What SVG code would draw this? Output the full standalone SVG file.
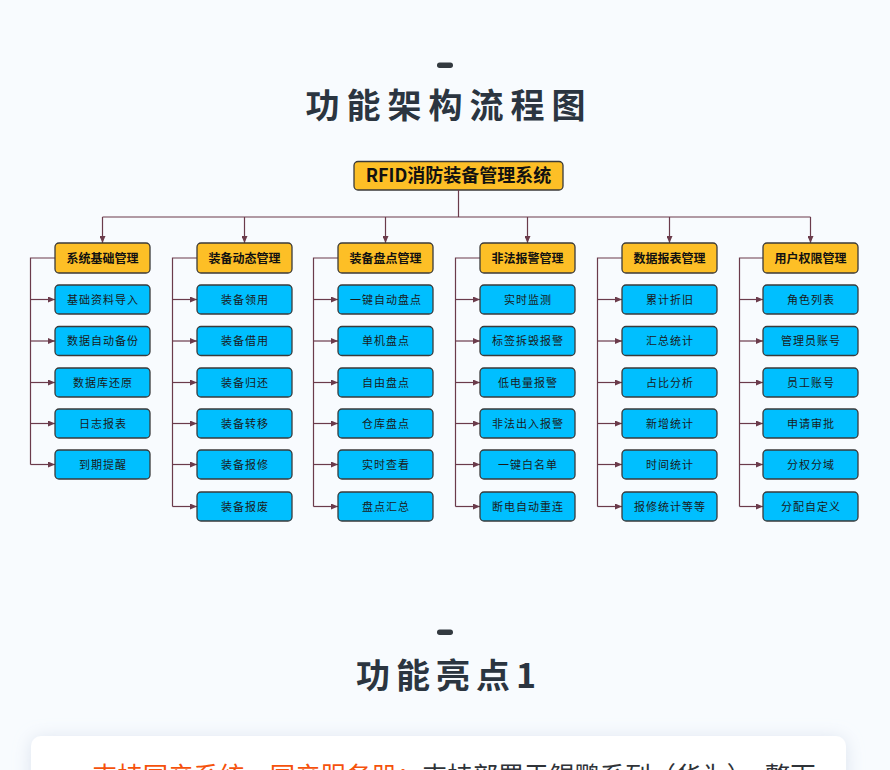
<svg xmlns="http://www.w3.org/2000/svg" width="890" height="770" viewBox="0 0 890 770">
<defs>
<style>
.bg{fill:#f8fbfe}
.dash{fill:#333a40}
.title{font-family:"Noto Sans CJK SC","Noto Sans",sans-serif;font-weight:700;font-size:34px;fill:#2b3540;text-anchor:middle}
.root rect,.hdr rect{fill:#fdbf26;stroke:#3a3a3a;stroke-width:1.3}
.leaf rect{fill:#00bfff;stroke:#3a3a3a;stroke-width:1.3}
.root text{font-family:"Noto Sans CJK SC",sans-serif;font-weight:700;font-size:18px;fill:#111;text-anchor:middle}
.hdr text{font-family:"Noto Sans CJK SC",sans-serif;font-weight:700;font-size:12px;fill:#111;text-anchor:middle}
.leaf text{font-family:"Noto Sans CJK SC",sans-serif;font-size:11px;letter-spacing:1px;fill:#1a1a1a;text-anchor:middle}
.conn path{fill:none;stroke:#6b3b4b;stroke-width:1.2}
.card{fill:#ffffff}
.hl{font-family:"Noto Sans CJK SC",sans-serif;font-size:25.4px}
</style>
<marker id="arr" viewBox="0 0 7 6" refX="7" refY="3" markerWidth="7" markerHeight="6" markerUnits="userSpaceOnUse" orient="auto">
<path d="M0,0 L7,3 L0,6 z" fill="#6b3b4b"/>
</marker>
<filter id="sh" x="-10%" y="-50%" width="120%" height="200%">
<feDropShadow dx="0" dy="2" stdDeviation="9" flood-color="#b9c6dc" flood-opacity="0.45"/>
</filter>
</defs>
<rect class="bg" x="0" y="0" width="890" height="770"/>

<rect class="dash" x="437" y="62.5" width="16" height="5.5" rx="2.7"/>
<text class="title" x="449" y="118" style="letter-spacing:7px">功能架构流程图</text>

<g id="root" class="root">
<rect x="354" y="161.5" width="209" height="28.5" rx="4"/>
<text x="458.5" y="182">RFID消防装备管理系统</text>
</g>

<g id="connectors" class="conn">
<path d="M458.5,190 V217"/>
<path d="M102.5,217 H810.5"/>
<path d="M102.5,217 V243" marker-end="url(#arr)"/>
<path d="M244.5,217 V243" marker-end="url(#arr)"/>
<path d="M385.5,217 V243" marker-end="url(#arr)"/>
<path d="M527.5,217 V243" marker-end="url(#arr)"/>
<path d="M669.5,217 V243" marker-end="url(#arr)"/>
<path d="M810.5,217 V243" marker-end="url(#arr)"/>
<path d="M55,258 H30.5 V464.5"/>
<path d="M30.5,299.5 H55" marker-end="url(#arr)"/>
<path d="M30.5,341 H55" marker-end="url(#arr)"/>
<path d="M30.5,382.5 H55" marker-end="url(#arr)"/>
<path d="M30.5,423.5 H55" marker-end="url(#arr)"/>
<path d="M30.5,464.5 H55" marker-end="url(#arr)"/>
<path d="M197,258 H172.5 V506.5"/>
<path d="M172.5,299.5 H197" marker-end="url(#arr)"/>
<path d="M172.5,341 H197" marker-end="url(#arr)"/>
<path d="M172.5,382.5 H197" marker-end="url(#arr)"/>
<path d="M172.5,423.5 H197" marker-end="url(#arr)"/>
<path d="M172.5,464.5 H197" marker-end="url(#arr)"/>
<path d="M172.5,506.5 H197" marker-end="url(#arr)"/>
<path d="M338,258 H313.5 V506.5"/>
<path d="M313.5,299.5 H338" marker-end="url(#arr)"/>
<path d="M313.5,341 H338" marker-end="url(#arr)"/>
<path d="M313.5,382.5 H338" marker-end="url(#arr)"/>
<path d="M313.5,423.5 H338" marker-end="url(#arr)"/>
<path d="M313.5,464.5 H338" marker-end="url(#arr)"/>
<path d="M313.5,506.5 H338" marker-end="url(#arr)"/>
<path d="M480,258 H455.5 V506.5"/>
<path d="M455.5,299.5 H480" marker-end="url(#arr)"/>
<path d="M455.5,341 H480" marker-end="url(#arr)"/>
<path d="M455.5,382.5 H480" marker-end="url(#arr)"/>
<path d="M455.5,423.5 H480" marker-end="url(#arr)"/>
<path d="M455.5,464.5 H480" marker-end="url(#arr)"/>
<path d="M455.5,506.5 H480" marker-end="url(#arr)"/>
<path d="M622,258 H597.5 V506.5"/>
<path d="M597.5,299.5 H622" marker-end="url(#arr)"/>
<path d="M597.5,341 H622" marker-end="url(#arr)"/>
<path d="M597.5,382.5 H622" marker-end="url(#arr)"/>
<path d="M597.5,423.5 H622" marker-end="url(#arr)"/>
<path d="M597.5,464.5 H622" marker-end="url(#arr)"/>
<path d="M597.5,506.5 H622" marker-end="url(#arr)"/>
<path d="M763,258 H739.5 V506.5"/>
<path d="M739.5,299.5 H763" marker-end="url(#arr)"/>
<path d="M739.5,341 H763" marker-end="url(#arr)"/>
<path d="M739.5,382.5 H763" marker-end="url(#arr)"/>
<path d="M739.5,423.5 H763" marker-end="url(#arr)"/>
<path d="M739.5,464.5 H763" marker-end="url(#arr)"/>
<path d="M739.5,506.5 H763" marker-end="url(#arr)"/>
</g>

<g id="h1" class="hdr"><rect x="55" y="243" width="95" height="30" rx="4"/><text x="102.5" y="262.5">系统基础管理</text></g>
<g id="h2" class="hdr"><rect x="197" y="243" width="95" height="30" rx="4"/><text x="244.5" y="262.5">装备动态管理</text></g>
<g id="h3" class="hdr"><rect x="338" y="243" width="95" height="30" rx="4"/><text x="385.5" y="262.5">装备盘点管理</text></g>
<g id="h4" class="hdr"><rect x="480" y="243" width="95" height="30" rx="4"/><text x="527.5" y="262.5">非法报警管理</text></g>
<g id="h5" class="hdr"><rect x="622" y="243" width="95" height="30" rx="4"/><text x="669.5" y="262.5">数据报表管理</text></g>
<g id="h6" class="hdr"><rect x="763" y="243" width="95" height="30" rx="4"/><text x="810.5" y="262.5">用户权限管理</text></g>

<g id="c1-1" class="leaf"><rect x="55" y="285" width="95" height="29" rx="4"/><text x="103" y="303.5">基础资料导入</text></g>
<g id="c1-2" class="leaf"><rect x="55" y="326.5" width="95" height="29" rx="4"/><text x="103" y="345">数据自动备份</text></g>
<g id="c1-3" class="leaf"><rect x="55" y="368" width="95" height="29" rx="4"/><text x="103" y="386.5">数据库还原</text></g>
<g id="c1-4" class="leaf"><rect x="55" y="409" width="95" height="29" rx="4"/><text x="103" y="427.5">日志报表</text></g>
<g id="c1-5" class="leaf"><rect x="55" y="450" width="95" height="29" rx="4"/><text x="103" y="468.5">到期提醒</text></g>

<g id="c2-1" class="leaf"><rect x="197" y="285" width="95" height="29" rx="4"/><text x="245" y="303.5">装备领用</text></g>
<g id="c2-2" class="leaf"><rect x="197" y="326.5" width="95" height="29" rx="4"/><text x="245" y="345">装备借用</text></g>
<g id="c2-3" class="leaf"><rect x="197" y="368" width="95" height="29" rx="4"/><text x="245" y="386.5">装备归还</text></g>
<g id="c2-4" class="leaf"><rect x="197" y="409" width="95" height="29" rx="4"/><text x="245" y="427.5">装备转移</text></g>
<g id="c2-5" class="leaf"><rect x="197" y="450" width="95" height="29" rx="4"/><text x="245" y="468.5">装备报修</text></g>
<g id="c2-6" class="leaf"><rect x="197" y="492" width="95" height="29" rx="4"/><text x="245" y="510.5">装备报废</text></g>

<g id="c3-1" class="leaf"><rect x="338" y="285" width="95" height="29" rx="4"/><text x="386" y="303.5">一键自动盘点</text></g>
<g id="c3-2" class="leaf"><rect x="338" y="326.5" width="95" height="29" rx="4"/><text x="386" y="345">单机盘点</text></g>
<g id="c3-3" class="leaf"><rect x="338" y="368" width="95" height="29" rx="4"/><text x="386" y="386.5">自由盘点</text></g>
<g id="c3-4" class="leaf"><rect x="338" y="409" width="95" height="29" rx="4"/><text x="386" y="427.5">仓库盘点</text></g>
<g id="c3-5" class="leaf"><rect x="338" y="450" width="95" height="29" rx="4"/><text x="386" y="468.5">实时查看</text></g>
<g id="c3-6" class="leaf"><rect x="338" y="492" width="95" height="29" rx="4"/><text x="386" y="510.5">盘点汇总</text></g>

<g id="c4-1" class="leaf"><rect x="480" y="285" width="95" height="29" rx="4"/><text x="528" y="303.5">实时监测</text></g>
<g id="c4-2" class="leaf"><rect x="480" y="326.5" width="95" height="29" rx="4"/><text x="528" y="345">标签拆毁报警</text></g>
<g id="c4-3" class="leaf"><rect x="480" y="368" width="95" height="29" rx="4"/><text x="528" y="386.5">低电量报警</text></g>
<g id="c4-4" class="leaf"><rect x="480" y="409" width="95" height="29" rx="4"/><text x="528" y="427.5">非法出入报警</text></g>
<g id="c4-5" class="leaf"><rect x="480" y="450" width="95" height="29" rx="4"/><text x="528" y="468.5">一键白名单</text></g>
<g id="c4-6" class="leaf"><rect x="480" y="492" width="95" height="29" rx="4"/><text x="528" y="510.5">断电自动重连</text></g>

<g id="c5-1" class="leaf"><rect x="622" y="285" width="95" height="29" rx="4"/><text x="670" y="303.5">累计折旧</text></g>
<g id="c5-2" class="leaf"><rect x="622" y="326.5" width="95" height="29" rx="4"/><text x="670" y="345">汇总统计</text></g>
<g id="c5-3" class="leaf"><rect x="622" y="368" width="95" height="29" rx="4"/><text x="670" y="386.5">占比分析</text></g>
<g id="c5-4" class="leaf"><rect x="622" y="409" width="95" height="29" rx="4"/><text x="670" y="427.5">新增统计</text></g>
<g id="c5-5" class="leaf"><rect x="622" y="450" width="95" height="29" rx="4"/><text x="670" y="468.5">时间统计</text></g>
<g id="c5-6" class="leaf"><rect x="622" y="492" width="95" height="29" rx="4"/><text x="670" y="510.5">报修统计等等</text></g>

<g id="c6-1" class="leaf"><rect x="763" y="285" width="95" height="29" rx="4"/><text x="811" y="303.5">角色列表</text></g>
<g id="c6-2" class="leaf"><rect x="763" y="326.5" width="95" height="29" rx="4"/><text x="811" y="345">管理员账号</text></g>
<g id="c6-3" class="leaf"><rect x="763" y="368" width="95" height="29" rx="4"/><text x="811" y="386.5">员工账号</text></g>
<g id="c6-4" class="leaf"><rect x="763" y="409" width="95" height="29" rx="4"/><text x="811" y="427.5">申请审批</text></g>
<g id="c6-5" class="leaf"><rect x="763" y="450" width="95" height="29" rx="4"/><text x="811" y="468.5">分权分域</text></g>
<g id="c6-6" class="leaf"><rect x="763" y="492" width="95" height="29" rx="4"/><text x="811" y="510.5">分配自定义</text></g>

<rect class="dash" x="437" y="629.5" width="16" height="5.5" rx="2.7"/>
<text class="title" x="449" y="688" style="letter-spacing:6px">功能亮点1</text>

<rect class="card" x="31" y="736" width="815" height="80" rx="10" filter="url(#sh)"/>
<text class="hl" x="92" y="785"><tspan fill="#f5520c">支持国产系统、国产服务器：</tspan><tspan fill="#2f3338">支持部署于鲲鹏系列（华为）、整下</tspan></text>
</svg>
